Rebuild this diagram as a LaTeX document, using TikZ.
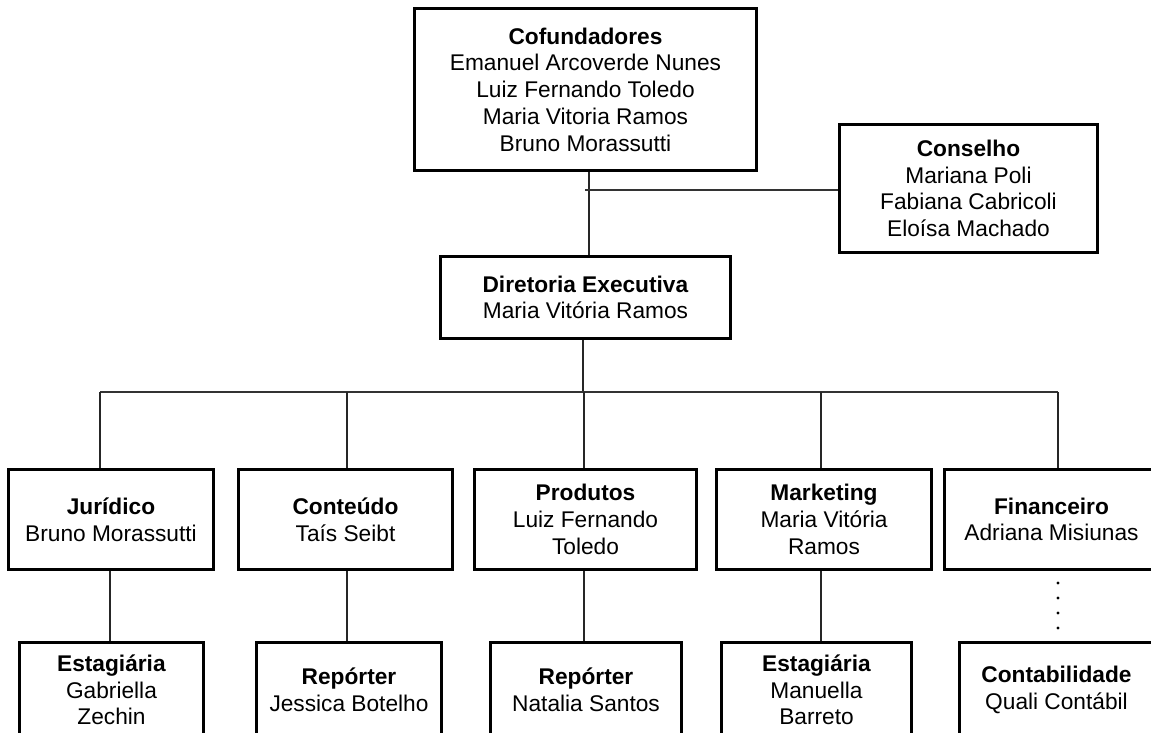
\documentclass[tikz,border=0pt]{standalone}
\usepackage{fontspec}
\setmainfont{Liberation Sans}
\tikzset{
  orgbox/.style={draw=black, line width=3pt, inner sep=0pt, align=center,
    font=\fontsize{22.7}{26.7}\selectfont, fill=white},
  conn/.style={draw=black!85, line width=1.6pt},
  busline/.style={draw=black!80, line width=1.3pt}
}
\begin{document}
\begin{tikzpicture}[x=1pt,y=-1pt]
\useasboundingbox (0,0) rectangle (1151,733);
% boxes
\node[orgbox, minimum width=342pt, minimum height=162pt] (cof) at (585.5,89.5)
  {\textbf{Cofundadores}\\Emanuel Arcoverde Nunes\\Luiz Fernando Toledo\\Maria Vitoria Ramos\\Bruno Morassutti};
\node[orgbox, minimum width=258pt, minimum height=128pt] (cons) at (968.5,188.5)
  {\textbf{Conselho}\\Mariana Poli\\Fabiana Cabricoli\\Eloísa Machado};
\node[orgbox, minimum width=290pt, minimum height=82pt] (dir) at (585.5,297.5)
  {\textbf{Diretoria Executiva}\\Maria Vitória Ramos};
\node[orgbox, minimum width=205pt, minimum height=100pt] (jur) at (111,519.5)
  {\textbf{Jurídico}\\Bruno Morassutti};
\node[orgbox, minimum width=214pt, minimum height=100pt] (con) at (345.5,519.5)
  {\textbf{Conteúdo}\\Taís Seibt};
\node[orgbox, minimum width=222pt, minimum height=100pt] (pro) at (585.5,519.5)
  {\textbf{Produtos}\\Luiz Fernando\\Toledo};
\node[orgbox, minimum width=215pt, minimum height=100pt] (mkt) at (824,519.5)
  {\textbf{Marketing}\\Maria Vitória\\Ramos};
\node[orgbox, minimum width=214pt, minimum height=100pt] (fin) at (1051.5,519.5)
  {\textbf{Financeiro}\\Adriana Misiunas};
\node[orgbox, minimum width=184pt, minimum height=95pt] (e1) at (111.5,690)
  {\textbf{Estagiária}\\Gabriella\\Zechin};
\node[orgbox, minimum width=185pt, minimum height=95pt] (r1) at (349,690)
  {\textbf{Repórter}\\Jessica Botelho};
\node[orgbox, minimum width=191pt, minimum height=95pt] (r2) at (586,690)
  {\textbf{Repórter}\\Natalia Santos};
\node[orgbox, minimum width=190pt, minimum height=95pt] (e2) at (816.5,690)
  {\textbf{Estagiária}\\Manuella\\Barreto};
\node[orgbox, minimum width=194pt, minimum height=95pt] (cont) at (1056.5,690)
  {\textbf{Contabilidade}\\Quali Contábil};
% top connectors
\coordinate (topx) at (589,172);
\coordinate (consj) at (585,190);
\draw[conn] (topx |- cof.south) -- (topx |- dir.north);
\draw[busline] (consj) -- (consj -| cons.west);
% bus
\coordinate (bus) at (583,392);
\coordinate (t1) at (100,392);
\coordinate (t2) at (347,392);
\coordinate (t3) at (584,392);
\coordinate (t4) at (821,392);
\coordinate (t5) at (1058,392);
\draw[conn] (bus |- dir.south) -- (bus);
\draw[busline] (t1) -- (t5);
\foreach \t/\n in {t1/jur,t2/con,t3/pro,t4/mkt,t5/fin}
  \draw[conn] (\t) -- (\t |- \n.north);
% children
\coordinate (c1) at (110,0);
\coordinate (c2) at (347,0);
\coordinate (c3) at (584,0);
\coordinate (c4) at (821,0);
\draw[conn] (c1 |- jur.south) -- (c1 |- e1.north);
\draw[conn] (c2 |- con.south) -- (c2 |- r1.north);
\draw[conn] (c3 |- pro.south) -- (c3 |- r2.north);
\draw[conn] (c4 |- mkt.south) -- (c4 |- e2.north);
% dotted link Financeiro -> Contabilidade
\foreach \y in {583,598,613,628}
  \fill[black] (t5 |- 0,\y) circle (1.6pt);
\end{tikzpicture}
\end{document}
